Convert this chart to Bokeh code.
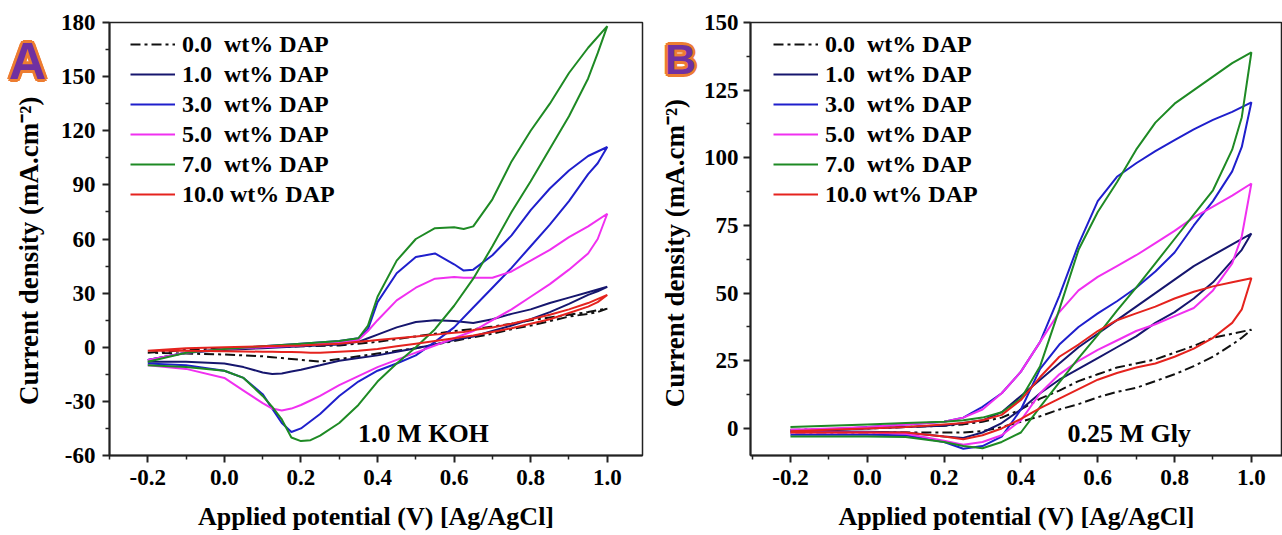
from bokeh.plotting import figure
from bokeh.models import (Range1d, FixedTicker, CustomJSTickFormatter, Legend,
                          LegendItem, Label)
from bokeh.layouts import row
from bokeh.embed import file_html
from bokeh.resources import INLINE

# ---------------- data ----------------
SERIES = ["0.0\u00a0 wt% DAP", "1.0\u00a0 wt% DAP", "3.0\u00a0 wt% DAP",
          "5.0\u00a0 wt% DAP", "7.0\u00a0 wt% DAP", "10.0 wt% DAP"]
COLORS = ["#111111", "#16166E", "#1F1FCC", "#F030F0", "#1E8A24", "#E5231E"]
Y_LABEL = "Current density (mA.cm\u207b\u00b2)"
X_LABEL = "Applied potential (V) [Ag/AgCl]"

X_TICKS = [-0.2, 0.0, 0.2, 0.4, 0.6, 0.8, 1.0]
X_MINOR = [-0.3, -0.1, 0.1, 0.3, 0.5, 0.7, 0.9]
A_Y_TICKS = [-60, -30, 0, 30, 60, 90, 120, 150, 180]
A_Y_MINOR = [-45, -15, 15, 45, 75, 105, 135, 165]
B_Y_TICKS = [0, 25, 50, 75, 100, 125, 150]
B_Y_MINOR = [-12.5, 12.5, 37.5, 62.5, 87.5, 112.5, 137.5]

# Panel A : 1.0 M KOH
EA_FWD = [-0.2, -0.1, 0.0, 0.1, 0.2, 0.3, 0.35, 0.375, 0.4, 0.45, 0.5, 0.55,
          0.6, 0.625, 0.65, 0.7, 0.75, 0.8, 0.85, 0.9, 0.95, 1.0]
EA_REV = [1.0, 0.975, 0.95, 0.9, 0.85, 0.8, 0.75, 0.7, 0.65, 0.6, 0.55, 0.5,
          0.45, 0.4, 0.35, 0.3, 0.25, 0.225, 0.2, 0.175, 0.15, 0.125, 0.1,
          0.05, 0.0, -0.1, -0.2]

A00_FWD = [-3, -1.5, -0.5, 0, 0.5, 1, 2, 2.5, 3, 4.5, 6, 7.5, 9, 9.5, 10,
           11.5, 13, 15, 16.5, 18, 19.5, 21.5]
A10_FWD = [-7, -3, -1.5, -0.5, 0.5, 1.5, 3, 5, 7, 11, 14, 15, 14.5, 14, 13.5,
           15.5, 18.5, 21, 24.5, 27.5, 30.5, 33.5]
A30_FWD = [-7, -3, -1, 0.5, 2, 3.5, 5, 10, 25, 41, 50, 52, 46, 42.5, 43, 51,
           62, 76, 88, 98, 106, 111]
A50_FWD = [-7, -3, -1, 0, 1, 2.5, 4, 9, 15, 26, 33, 38, 39, 38.5, 38.5, 38.5,
           42, 48, 54, 61, 67, 74]
A70_FWD = [-8, -3, -1, 0.5, 2, 3.5, 5, 12, 28, 48, 60, 66, 66.5, 65.5, 67, 82,
           103, 120, 135, 152, 166, 178]
A100_FWD = [-2, -0.5, 0, 0.5, 1, 2, 3, 3.5, 4, 5, 6, 7, 8, 8.5, 9.5, 11, 13,
            15.5, 18, 21, 24.5, 29]

A00_REV = [21.5, 19.5, 18.5, 17, 14.5, 12, 10, 7.5, 5.5, 3.5, 1.5, -0.5, -2,
           -3.5, -5, -6.5, -8, -7.5, -7, -6.5, -6, -5.5, -5, -4.5, -4, -3.5, -3]
A10_REV = [33.5, 31, 29, 24, 19.5, 15.5, 12, 9, 6, 4, 1.5, -0.5, -2.5, -4.5,
           -6, -7.5, -10, -11.2, -12.5, -13.5, -14.5, -14.8, -14, -11, -9, -8, -8]
A30_REV = [111, 102, 96, 81, 68, 56, 44, 33, 22, 11, 3, -4.5, -9, -13, -19,
           -27, -37, -41, -45, -47, -42, -34, -26, -17, -13, -10, -9]
A50_REV = [74, 60, 52, 43, 35, 28, 21, 15, 9, 5, 1, -3, -7, -11, -16, -21,
           -27, -29.5, -32, -34, -35, -34, -31, -24, -17, -12, -10]
A70_REV = [178, 163, 149, 128, 110, 92, 75, 56, 38, 23, 10, 0, -9, -19, -32,
           -42, -49, -51.5, -52, -50, -40, -33, -27, -17, -13, -11, -10]
A100_REV = [29, 25, 22.5, 19, 15.5, 13, 10.5, 8.5, 6.5, 5, 3.5, 2, 0.5, -1,
            -2, -2.5, -3, -3, -2.8, -2.7, -2.6, -2.5, -2.5, -2.3, -2.2, -2, -2]

# Panel B : 0.25 M Gly
EB_FWD = [-0.2, -0.1, 0.0, 0.1, 0.2, 0.25, 0.3, 0.35, 0.4, 0.45, 0.5, 0.55,
          0.6, 0.65, 0.7, 0.75, 0.8, 0.85, 0.9, 0.95, 1.0]
EB_REV = [1.0, 0.975, 0.95, 0.9, 0.85, 0.8, 0.75, 0.7, 0.65, 0.6, 0.55, 0.5,
          0.45, 0.4, 0.35, 0.3, 0.25, 0.2, 0.1, 0.0, -0.1, -0.2]

B00_FWD = [-0.5, -0.3, 0, 0.5, 1, 1.5, 2.5, 4, 7, 11, 14, 17.5, 20, 22.5, 24,
           25.5, 28, 30.5, 33.5, 35, 36.5]
B10_FWD = [-1, -0.5, 0, 0.5, 1, 2, 3, 6, 12, 18, 24, 30, 35, 40, 45, 50, 55,
           60, 64, 68, 72]
B30_FWD = [-1, -0.5, 0.5, 1.5, 2.5, 4, 8, 13, 21, 32, 49, 68, 84, 93, 98,
           102.5, 106.5, 110.5, 114, 117, 120.5]
B50_FWD = [-0.5, 0, 0.5, 1.5, 2.5, 4, 7, 13, 21, 32, 43, 51, 56, 60, 64, 68.5,
           73, 78, 82, 86, 90.5]
B70_FWD = [0.5, 1, 1.5, 2, 2.5, 3, 4, 6, 11, 23, 44, 66, 80, 91, 103, 113, 120,
           125, 130, 135, 139]
B100_FWD = [-1, -0.5, 0, 0.5, 1.5, 2, 3, 5, 10.5, 19, 26.5, 31, 36, 40, 42.5,
            45, 48, 50.5, 52.5, 54, 55.5]

B00_REV = [36.5, 33.5, 31, 26.5, 23, 20, 17.5, 15, 13.5, 11.5, 9, 7, 4.5, 2.5,
           0.5, -1, -1.5, -1.5, -1.5, -1.5, -1.5, -1.5]
B10_REV = [72, 66, 62, 54, 48, 43, 39, 34, 30, 26, 22, 18, 13, 7, 2, -1.5,
           -3.5, -3, -1.5, -1.2, -1, -1]
B30_REV = [120.5, 104, 95, 84, 75, 65, 58, 52, 47, 42.5, 37.5, 31, 22, 7, -3,
           -6.5, -7.5, -5, -2.5, -2.3, -2.3, -2.3]
B50_REV = [90.5, 71, 61, 51, 44.5, 41.5, 38.5, 36, 32.5, 29, 25, 20, 13, 3,
           -2.5, -5, -6, -4.5, -2, -1.5, -1.5, -1.5]
B70_REV = [139, 115, 103, 88, 79, 70, 61, 52, 43.5, 34.5, 26, 17, 8, -1.5, -5,
           -7.3, -6.5, -5, -3.2, -3, -3, -3]
B100_REV = [55.5, 44, 39, 33.5, 29.5, 26.5, 24, 22.5, 20.5, 18, 14.5, 11, 7.5,
            3.5, 0, -2.5, -4, -3, -1.5, -1.5, -1.5, -1.5]

A_FWD = [A00_FWD, A10_FWD, A30_FWD, A50_FWD, A70_FWD, A100_FWD]
A_REV = [A00_REV, A10_REV, A30_REV, A50_REV, A70_REV, A100_REV]
B_FWD = [B00_FWD, B10_FWD, B30_FWD, B50_FWD, B70_FWD, B100_FWD]
B_REV = [B00_REV, B10_REV, B30_REV, B50_REV, B70_REV, B100_REV]

SERIF = "Liberation Serif"
PURPLE = "#7030A0"
ORANGE = "#ED7D31"
OFFS = [(-3, 0), (3, 0), (0, -3), (0, 3), (-2, -2), (-2, 2), (2, -2), (2, 2)]
H = 535


def side_strip(width, letter, letter_xy, letter_size, ylab_xy):
    """Narrow strip left of a panel: holds the panel letter and y title."""
    s = figure(width=width, height=H, output_backend="svg",
               toolbar_location=None, x_range=Range1d(0, width),
               y_range=Range1d(0, H), x_axis_location=None,
               y_axis_location=None, min_border=0)
    s.xgrid.visible = False
    s.ygrid.visible = False
    s.outline_line_color = None
    s.background_fill_color = "white"
    s.border_fill_color = "white"
    common = dict(x=letter_xy[0], y=H - letter_xy[1], text=letter,
                  text_align="center", text_baseline="middle",
                  text_font="Liberation Sans", text_font_style="bold",
                  text_font_size=letter_size)
    for dx, dy in OFFS:
        s.add_layout(Label(x_offset=dx, y_offset=dy, text_color=ORANGE,
                           **common))
    s.add_layout(Label(text_color=PURPLE, **common))
    s.add_layout(Label(x=ylab_xy[0], y=H - ylab_xy[1], text=Y_LABEL,
                       angle=90, angle_units="deg", text_align="center",
                       text_baseline="middle", text_font=SERIF,
                       text_font_style="bold", text_font_size="27px",
                       text_color="black"))
    return s


def make_panel(width, border_left, border_right, xr, yr, yticks, yminor,
               e_fwd, e_rev, fwd, rev, legend_x, note, note_xy, y_standoff):
    p = figure(width=width, height=H, output_backend="svg",
               toolbar_location=None, x_range=Range1d(*xr),
               y_range=Range1d(*yr), min_border_left=border_left,
               min_border_right=border_right, min_border_top=22,
               min_border_bottom=80)
    p.background_fill_color = "white"
    p.border_fill_color = "white"
    p.xgrid.visible = False
    p.ygrid.visible = False
    p.outline_line_color = "#222222"
    p.outline_line_width = 1.5

    p.xaxis.ticker = FixedTicker(ticks=X_TICKS, minor_ticks=X_MINOR)
    p.yaxis.ticker = FixedTicker(ticks=yticks, minor_ticks=yminor)
    p.xaxis.formatter = CustomJSTickFormatter(code="return tick.toFixed(1)")
    p.yaxis.formatter = CustomJSTickFormatter(code="return tick.toFixed(0)")
    p.xaxis.axis_label = X_LABEL
    for ax in (p.xaxis, p.yaxis):
        ax.axis_line_width = 2
        ax.axis_line_color = "#222222"
        ax.major_tick_line_width = 2
        ax.minor_tick_line_width = 1.5
        ax.major_tick_line_color = "#222222"
        ax.minor_tick_line_color = "#222222"
        ax.major_tick_out = 7
        ax.major_tick_in = 0
        ax.minor_tick_out = 4
        ax.minor_tick_in = 0
        ax.major_label_standoff = 7
        ax.major_label_text_font = SERIF
        ax.major_label_text_font_style = "bold"
        ax.major_label_text_font_size = "23px"
        ax.major_label_text_color = "black"
        ax.axis_label_text_font = SERIF
        ax.axis_label_text_font_style = "bold"
        ax.axis_label_text_font_size = "26px"
        ax.axis_label_text_color = "black"
    p.yaxis.major_label_standoff = y_standoff
    p.xaxis.axis_label_standoff = 14

    items = []
    for i in range(len(SERIES)):
        xs = list(e_fwd) + list(e_rev)
        ys = list(fwd[i]) + list(rev[i])
        kw = dict(line_color=COLORS[i], line_width=2)
        if i == 0:
            kw["line_dash"] = "10 4 3 4"
        r = p.line(xs, ys, **kw)
        items.append(LegendItem(label=SERIES[i], renderers=[r]))

    leg = Legend(items=items, location=(legend_x, 246), margin=0, padding=0,
                 spacing=0, glyph_width=45, glyph_height=30, label_height=30,
                 label_standoff=7, label_text_font=SERIF,
                 label_text_font_style="bold", label_text_font_size="24px",
                 label_text_color="black", border_line_alpha=0,
                 background_fill_alpha=0)
    p.add_layout(leg)

    p.add_layout(Label(x=note_xy[0], y=note_xy[1], text=note,
                       text_align="center", text_baseline="middle",
                       text_font=SERIF, text_font_style="bold",
                       text_font_size="26px", text_color="black"))
    return p


sA = side_strip(55, "A", (27, 48), "52px", (28, 282))
pA = make_panel(590, 54, 3, (-0.3, 1.092), (-60, 180), A_Y_TICKS, A_Y_MINOR,
                EA_FWD, EA_REV, A_FWD, A_REV, 21, "1.0 M KOH", (0.52, -47.8),
                7)
sB = side_strip(53, "B", (35, 45), "43px", (29, 285))
pB = make_panel(584, 52, 0, (-0.304, 1.081), (-10, 150), B_Y_TICKS, B_Y_MINOR,
                EB_FWD, EB_REV, B_FWD, B_REV, 23, "0.25 M Gly", (0.682, -1.7),
                5)

layout = row(sA, pA, sB, pB)
open("out.html", "w").write(file_html(layout, INLINE))
